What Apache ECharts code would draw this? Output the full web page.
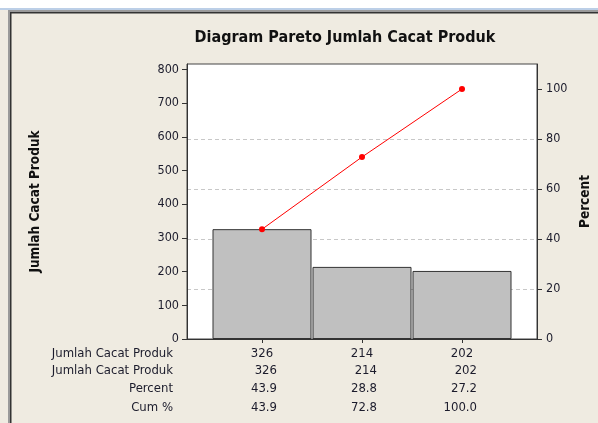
<!DOCTYPE html>
<html>
<head>
<meta charset="utf-8">
<script src="https://cdn.jsdelivr.net/npm/echarts@6/dist/echarts.min.js"></script>
<style>html,body{margin:0;padding:0;background:#efebe1;}#c{width:598px;height:423px;}</style>
</head>
<body>
<div id="c"></div>
<script>
const categoryLabels = ['326', '214', '202'];
const counts = [326, 214, 202];
const percent = [43.9, 28.8, 27.2];
const cumPercent = [43.9, 72.8, 100.0];
const leftTicks = [0, 100, 200, 300, 400, 500, 600, 700, 800];
const rightTicks = [0, 20, 40, 60, 80, 100];
const rowHeaders = ['Jumlah Cacat Produk', 'Jumlah Cacat Produk', 'Percent', 'Cum %'];

const FONT = '"DejaVu Sans Condensed", "DejaVu Sans", sans-serif';
const TXT = '#1c1c2c';
const TABLE_FS = 13;
const xPos = categoryLabels.map((_, i) => i + 1);
const total = counts.reduce((a, b) => a + b, 0);

const rowValues = [
  categoryLabels,
  counts.map(String),
  percent.map(v => v.toFixed(1)),
  cumPercent.map(v => v.toFixed(1))
];
const rowOffsets = [14.5, 31.5, 49.5, 69];
const AXIS_Y = 339;

function tableAxis(r) {
  return {
    type: 'value', gridIndex: 0, position: 'bottom', offset: rowOffsets[r],
    min: 0.25, max: 3.75,
    axisLine: { show: false }, axisTick: { show: false }, splitLine: { show: false },
    axisLabel: {
      customValues: xPos, margin: 0, verticalAlign: 'middle', align: 'center',
      fontFamily: FONT, fontSize: TABLE_FS, color: TXT,
      formatter: function (v) {
        const i = Math.round(v) - 1;
        const s = rowValues[r][i];
        return r === 0 ? s : '{r|' + s + '}';
      },
      rich: { r: { width: 30, align: 'right', fontFamily: FONT, fontSize: TABLE_FS, color: TXT } }
    }
  };
}

const frame = [
  { type: 'rect', shape: { x: 0, y: 0, width: 598, height: 8 }, style: { fill: '#ffffff' }, silent: true },
  { type: 'rect', shape: { x: 0, y: 8, width: 598, height: 2 }, style: { fill: '#bccfe7' }, silent: true },
  { type: 'rect', shape: { x: 8, y: 10, width: 590, height: 2 }, style: { fill: '#9a9a9a' }, silent: true },
  { type: 'rect', shape: { x: 9, y: 12, width: 589, height: 1.5 }, style: { fill: '#333333' }, silent: true },
  { type: 'rect', shape: { x: 8, y: 10, width: 2, height: 413 }, style: { fill: '#9a9a9a' }, silent: true },
  { type: 'rect', shape: { x: 10, y: 12, width: 1.5, height: 411 }, style: { fill: '#333333' }, silent: true }
];
const headerTexts = rowHeaders.map((h, r) => ({
  type: 'text', x: 173, y: AXIS_Y + rowOffsets[r], silent: true,
  style: { text: h, align: 'right', verticalAlign: 'middle', fontFamily: FONT, fontSize: TABLE_FS, fill: TXT }
}));

const chart = echarts.init(document.getElementById('c'), null, { renderer: 'canvas' });
chart.setOption({
  backgroundColor: '#efebe1',
  animation: false,
  textStyle: { fontFamily: FONT },
  title: {
    text: 'Diagram Pareto Jumlah Cacat Produk',
    left: 345, top: 30, padding: 0, textAlign: 'center',
    textStyle: { fontFamily: FONT, fontSize: 16, fontWeight: 'bold', color: '#111' }
  },
  graphic: frame.concat(headerTexts),
  grid: {
    left: 187, right: 61, top: 64, bottom: 84,
    outerBoundsMode: 'none', containLabel: false,
    show: true, backgroundColor: '#ffffff', borderColor: '#444', borderWidth: 1
  },
  xAxis: [
    {
      type: 'value', gridIndex: 0, position: 'bottom', min: 0.25, max: 3.75,
      axisLine: { show: true, onZero: false, lineStyle: { color: '#333', width: 1 } },
      axisTick: { show: true, customValues: xPos, length: 4, lineStyle: { color: '#333' } },
      axisLabel: { show: false },
      splitLine: { show: false }
    },
    tableAxis(0), tableAxis(1), tableAxis(2), tableAxis(3)
  ],
  yAxis: [
    {
      type: 'value', min: 0, max: total * 1.1, position: 'left',
      name: 'Jumlah Cacat Produk', nameLocation: 'middle', nameGap: 145, nameRotate: 90,
      nameTextStyle: { fontFamily: FONT, fontSize: 13.5, fontWeight: 'bold', color: '#111' },
      axisLine: { show: true, lineStyle: { color: '#333' } },
      axisTick: { show: true, customValues: leftTicks, length: 5, lineStyle: { color: '#333' } },
      axisLabel: { customValues: leftTicks, margin: 8, fontFamily: FONT, fontSize: 12.5, color: TXT },
      splitLine: { show: false }
    },
    {
      type: 'value', min: 0, max: 110, position: 'right',
      name: 'Percent', nameLocation: 'middle', nameGap: 35, nameRotate: 90,
      nameTextStyle: { fontFamily: FONT, fontSize: 13.5, fontWeight: 'bold', color: '#111' },
      axisLine: { show: true, lineStyle: { color: '#333' } },
      axisTick: { show: true, customValues: rightTicks, length: 5, lineStyle: { color: '#333' } },
      axisLabel: { customValues: rightTicks, margin: 9, fontFamily: FONT, fontSize: 12.5, color: TXT },
      splitLine: {
        show: true, showMinLine: false, showMaxLine: false,
        lineStyle: { color: '#c8c8c8', type: [4, 3], width: 1 }
      }
    }
  ],
  series: [
    {
      type: 'bar', xAxisIndex: 0, yAxisIndex: 0, barWidth: 99,
      data: xPos.map((x, i) => [x, counts[i]]),
      itemStyle: { color: '#c0c0c0', borderColor: '#333', borderWidth: 1 },
      z: 3
    },
    {
      type: 'line', xAxisIndex: 0, yAxisIndex: 1,
      data: xPos.map((x, i) => [x, cumPercent[i]]),
      symbol: 'circle', symbolSize: 6,
      lineStyle: { color: '#ff0000', width: 1 },
      itemStyle: { color: '#ff0000' },
      z: 5
    }
  ]
});
</script>
</body>
</html>
